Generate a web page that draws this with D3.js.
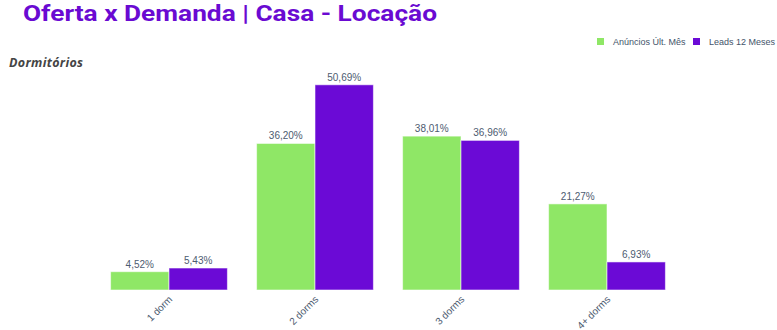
<!DOCTYPE html>
<html>
<head>
<meta charset="utf-8">
<script src="https://cdn.jsdelivr.net/npm/d3@7"></script>
<style>
  html, body { margin: 0; padding: 0; background: #fff; }
  svg { display: block; }
</style>
</head>
<body>
<svg id="chart" width="777" height="330"></svg>
<script>
// Categories and series (percent shares)
const categories = ["1 dorm", "2 dorms", "3 dorms", "4+ dorms"];
const seriesNames = ["Anúncios Últ. Mês", "Leads 12 Meses"];
const anuncios = [4.52, 36.20, 38.01, 21.27];
const leads = [5.43, 50.69, 36.96, 6.93];
const seriesColors = ["#8fe766", "#6b0ad6"];

const seriesValues = [anuncios, leads];
const fmt = v => v.toFixed(2).replace(".", ",") + "%";

const svg = d3.select("#chart");
const plot = { left: 96, right: 680, top: 74, bottom: 290 };

const x = d3.scaleBand().domain(categories).range([plot.left, plot.right]).paddingInner(0.2).paddingOuter(0.1);
const xInner = d3.scaleBand().domain(seriesNames).range([0, x.bandwidth()]);
const yMax = d3.max(seriesValues.flat()) * 1.0526;
const y = d3.scaleLinear().domain([0, yMax]).range([plot.bottom, plot.top]);

// Title
svg.append("text")
  .attr("x", 23).attr("y", 20.6)
  .attr("font-family", "Roboto, 'Open Sans', sans-serif")
  .attr("font-weight", 700)
  .attr("font-size", 22)
  .attr("fill", "#6a0ad2")
  .attr("textLength", 414)
  .attr("lengthAdjust", "spacingAndGlyphs")
  .text("Oferta x Demanda | Casa - Locação");

// Subtitle
svg.append("text")
  .attr("x", 9).attr("y", 67)
  .attr("font-family", "'Open Sans', 'DejaVu Sans', sans-serif")
  .attr("font-weight", 700)
  .attr("font-style", "italic")
  .attr("font-size", 12.5)
  .attr("fill", "#454545")
  .attr("textLength", 74)
  .attr("lengthAdjust", "spacing")
  .text("Dormitórios");

// Legend
const legendItems = [
  { name: seriesNames[0], color: seriesColors[0], sx: 597, tx: 613 },
  { name: seriesNames[1], color: seriesColors[1], sx: 693, tx: 709 }
];
const lg = svg.append("g");
legendItems.forEach(it => {
  lg.append("rect").attr("x", it.sx).attr("y", 38).attr("width", 7).attr("height", 7).attr("fill", it.color);
  lg.append("text").attr("x", it.tx).attr("y", 45)
    .attr("font-family", "'Liberation Sans', Arial, sans-serif")
    .attr("font-size", 9)
    .attr("fill", "#44546a")
    .text(it.name);
});

// Bars
const groups = svg.append("g").selectAll("g")
  .data(categories)
  .join("g")
  .attr("transform", d => `translate(${x(d)},0)`);

groups.selectAll("rect")
  .data((c, i) => seriesNames.map((s, j) => ({ s, j, v: seriesValues[j][i] })))
  .join("rect")
  .attr("x", d => xInner(d.s))
  .attr("width", xInner.bandwidth())
  .attr("y", d => y(d.v))
  .attr("height", d => y(0) - y(d.v))
  .attr("fill", d => seriesColors[d.j])
  .attr("stroke", "rgba(255,255,255,0.55)")
  .attr("stroke-width", 1);

groups.selectAll("text")
  .data((c, i) => seriesNames.map((s, j) => ({ s, j, v: seriesValues[j][i] })))
  .join("text")
  .attr("x", d => xInner(d.s) + xInner.bandwidth() / 2)
  .attr("y", d => y(d.v) - 4)
  .attr("text-anchor", "middle")
  .attr("font-family", "'Liberation Sans', Arial, sans-serif")
  .attr("font-size", 10)
  .attr("fill", "#4d5b70")
  .text(d => fmt(d.v));

// X axis labels (rotated)
const xAxis = d3.axisBottom(x).tickSize(0).tickPadding(0);
const ax = svg.append("g").attr("transform", `translate(0,${plot.bottom})`).call(xAxis);
ax.select(".domain").remove();
ax.selectAll("text")
  .attr("font-family", "'Liberation Sans', Arial, sans-serif")
  .attr("font-size", 10)
  .attr("fill", "#4d5b70")
  .attr("text-anchor", "end")
  .attr("dy", null)
  .attr("y", 0)
  .attr("transform", "translate(4,10) rotate(-45)");
</script>
</body>
</html>
